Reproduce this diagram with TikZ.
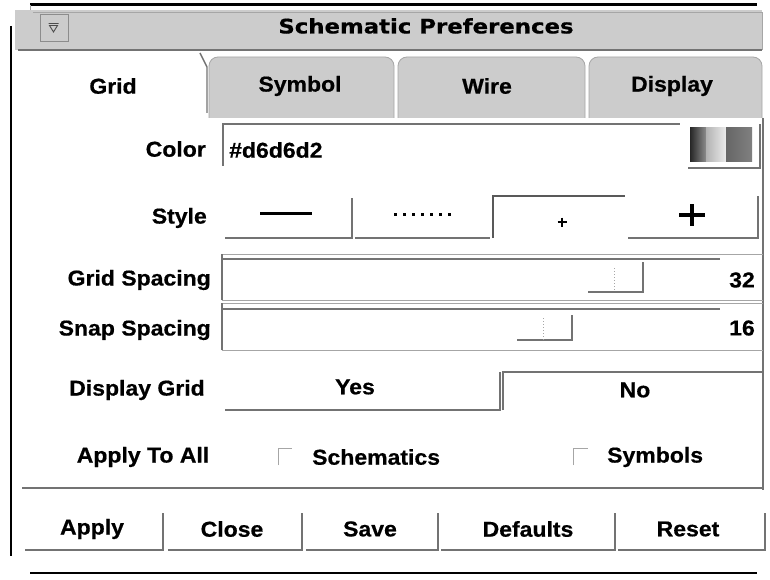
\documentclass[tikz,border=0pt]{standalone}
\usepackage{fontspec}
\setmainfont{Liberation Sans}[FakeStretch=1.07, BoldFeatures={FakeBold=0.6}]
\newfontfamily\titlefam{DejaVu Sans}[FakeStretch=1.14, BoldFeatures={FakeBold=0.5}]
\newcommand\uifnt{\fontsize{21.5}{26}\selectfont\bfseries}
\newcommand\titlefnt{\titlefam\fontsize{20}{24}\selectfont\bfseries}
\begin{document}
\begin{tikzpicture}[x=1pt,y=-1pt,
  lbl/.style={font=\uifnt, inner sep=0pt, text=black},
  edge/.style={draw=black!55, line width=1.4pt},
  faint/.style={draw=black!35, line width=1pt},
  frame/.style={draw=black, line width=2.8pt},
  barfill/.style={fill=black!20},
  tabshape/.style={barfill, draw=black!35, line width=0.8pt, rounded corners=9pt}]
\useasboundingbox (0,0) rectangle (770,580);
\fill[white] (0,0) rectangle (770,580);

% ---- window frame ----
\draw[frame] (30,4.5) -- (757,4.5);
\draw[frame] (11,26) -- (11,556);
\draw[frame] (30,573) -- (757,573);
\draw[faint] (30,5) -- (30,13) -- (17,13) -- (17,26);

% ---- title bar ----
\fill[barfill] (15,10) rectangle (762,50);
\draw[faint] (33,13) -- (762,13) -- (762,50);
\draw[edge] (18,50) -- (762,50);
\node[draw=black!45, line width=1pt, minimum width=28pt, minimum height=27pt, inner sep=0pt] (menu) at (54,28) {};
\draw[black!70, line width=0.9pt] (48.5,23.5) -- (58.5,23.5) (49.5,25.5) -- (57.5,25.5) -- (53.5,32) -- cycle;
\node[font=\titlefnt, inner sep=0pt] (title) at (426,26) {Schematic Preferences};

% ---- tabs ----
\draw[edge] (200,53) -- (207,67) -- (207,113);
\path[tabshape] (209,118) -- (209,57) -- (394,57) -- (394,118);
\path[tabshape] (398,118) -- (398,57) -- (585,57) -- (585,118);
\path[tabshape] (589,118) -- (589,57) -- (762,57) -- (762,118);
\node[lbl] (tgrid) at (113,86) {Grid};
\node[lbl] (tsymbol) at (300,86) {Symbol};
\node[lbl] (twire) at (487,86) {Wire};
\node[lbl] (tdisplay) at (672,86) {Display};

% panel right edge
\draw[edge] (763,118) -- (763,490);

% ---- colour row ----
\node[lbl, anchor=east] (colorlbl) at (206,149) {Color};
\draw[edge] (223,166) -- (223,124) -- (680,124);
\node[lbl, anchor=west] (colorval) at (229,150) {\#d6d6d2};
\shade[left color=black!85, right color=black!45] (690,128) rectangle (706,162);
\shade[left color=black!30, right color=black!8] (706,128) rectangle (726,162);
\shade[left color=black!60, right color=black!50] (726,128) rectangle (752,162);
\draw[edge] (688,168) -- (760,168) -- (760,124);

% ---- style row ----
\node[lbl, anchor=east] (stylelbl) at (207,218) {Style};
\draw[edge] (225,238) -- (352,238) -- (352,198);
\draw[edge] (355,238) -- (490,238);
\draw[edge, draw=black!65, line width=2pt] (493,238) -- (493,196) -- (625,196);
\draw[edge] (628,238) -- (758,238) -- (758,196);
\draw[line width=3pt] (260,213) -- (312,213);
\foreach \i in {0,...,6} \fill (394+\i*9,213) rectangle ++(3,3);
\draw[line width=2.2pt] (557.5,222) -- (566.5,222) (562,217.5) -- (562,226.5);
\draw[line width=3.2pt] (679,215) -- (705,215) (692,204) -- (692,226);

% ---- spacing sliders ----
\node[lbl, anchor=east] (gridlbl) at (211,280) {Grid Spacing};
\draw[faint] (222,254) -- (763,254);
\draw[edge] (222,300) -- (222,254);
\draw[edge] (222,259) -- (720,259);
\draw[faint] (222,300) -- (763,300);
\draw[edge] (763,258) -- (763,300);
\draw[edge] (588,292) -- (643,292) -- (643,262);
\draw[faint, dotted] (614,268) -- (614,292);
\node[lbl, anchor=east] (gridval) at (755,280) {32};

\node[lbl, anchor=east] (snaplbl) at (211,330) {Snap Spacing};
\draw[faint] (222,303) -- (763,303);
\draw[edge] (222,350) -- (222,303);
\draw[edge] (222,309) -- (720,309);
\draw[faint] (222,350) -- (763,350);
\draw[edge] (517,340) -- (572,340) -- (572,315);
\draw[faint, dotted] (543,318) -- (543,340);
\node[lbl, anchor=east] (snapval) at (755,328) {16};

% ---- display grid ----
\node[lbl] (displbl) at (137,390) {Display Grid};
\draw[edge] (225,410) -- (500,410) -- (500,372);
\draw[edge] (503,410) -- (503,372) -- (762,372);
\node[lbl] (yes) at (355,387) {Yes};
\node[lbl] (no) at (635,390) {No};

% ---- apply to all ----
\node[lbl] (applyall) at (143,457) {Apply To All};
\draw[faint] (278,465) -- (278,448) -- (292,448);
\node[lbl, anchor=west] (schem) at (312,457) {Schematics};
\draw[faint] (573,465) -- (573,448) -- (588,448);
\node[lbl, anchor=west] (symb) at (607,457) {Symbols};

\draw[edge] (22,488) -- (763,488);

% ---- action buttons ----
\draw[edge] (25,550) -- (163,550) -- (163,513);
\draw[edge] (168,550) -- (302,550) -- (302,513);
\draw[edge] (306,550) -- (438,550) -- (438,513);
\draw[edge] (441,550) -- (615,550) -- (615,513);
\draw[edge] (618,550) -- (765,550) -- (765,513);
\node[lbl] (apply) at (92,529) {Apply};
\node[lbl] (close) at (232,529) {Close};
\node[lbl] (save) at (370,529) {Save};
\node[lbl] (defaults) at (528,529) {Defaults};
\node[lbl] (reset) at (688,529) {Reset};
\end{tikzpicture}
\end{document}
